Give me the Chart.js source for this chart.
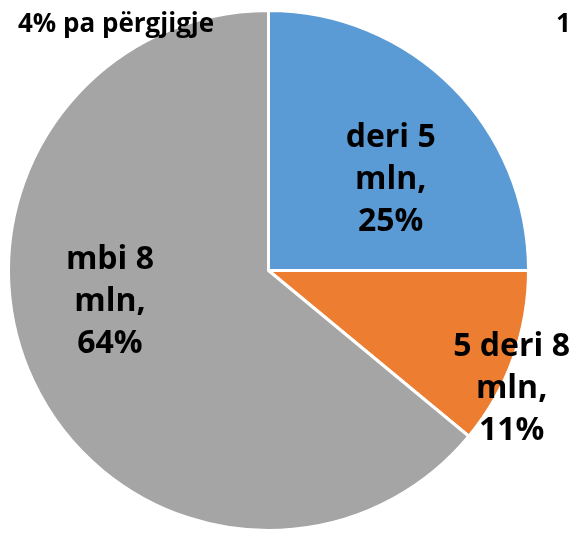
<!DOCTYPE html>
<html>
<head>
<meta charset="utf-8">
<script src="https://cdn.jsdelivr.net/npm/chart.js@4"></script>
<style>
  html, body { margin: 0; padding: 0; background: #fff; }
  #wrap { position: relative; width: 573px; height: 534px; }
</style>
</head>
<body>
<div id="wrap"><canvas id="pieChart" width="573" height="534"></canvas></div>
<script>
// kategorite dhe vlerat (%)
const categories = ['deri 5 mln', '5 deri 8 mln', 'mbi 8 mln'];
const values = [25, 11, 64];
const sliceColors = ['#5B9BD5', '#ED7D31', '#A5A5A5'];
const noteLeft = '4% pa përgjigje';
const noteRight = '1';

// pozicioni i etiketave (pjese e rrezes nga qendra)
const labelOffsets = [[0.47, -0.36], [0.935, 0.445], [-0.61, 0.11]];

const labelPlugin = {
  id: 'sliceLabels',
  afterDraw(chart) {
    const ctx = chart.ctx;
    const meta = chart.getDatasetMeta(0);
    ctx.save();
    ctx.fillStyle = '#000';
    ctx.font = 'bold 32px "Open Sans"';
    ctx.textAlign = 'center';
    ctx.textBaseline = 'alphabetic';
    meta.data.forEach((arc, i) => {
      const r = arc.outerRadius;
      const cx = arc.x + labelOffsets[i][0] * r;
      const cy = arc.y + labelOffsets[i][1] * r;
      const parts = categories[i].split(' ');
      const last = parts.pop();
      const lines = [parts.join(' '), last + ',', values[i] + '%'];
      // baseline e rreshtit te mesit
      lines.forEach((t, k) => ctx.fillText(t, cx, cy + 12 + (k - 1) * 42));
    });
    // shenimet lart
    ctx.font = 'bold 26px "Open Sans"';
    ctx.textAlign = 'left';
    ctx.fillText(noteLeft, 18, 32);
    ctx.fillText(noteRight, 556, 32);
    ctx.restore();
  }
};

new Chart(document.getElementById('pieChart'), {
  type: 'pie',
  data: {
    labels: categories,
    datasets: [{
      data: values,
      backgroundColor: sliceColors,
      borderColor: '#ffffff',
      borderWidth: 3
    }]
  },
  options: {
    responsive: false,
    animation: false,
    layout: { padding: { left: 7, right: 43, top: 9, bottom: 2 } },
    plugins: { legend: { display: false }, tooltip: { enabled: false } }
  },
  plugins: [labelPlugin]
});
</script>
</body>
</html>
